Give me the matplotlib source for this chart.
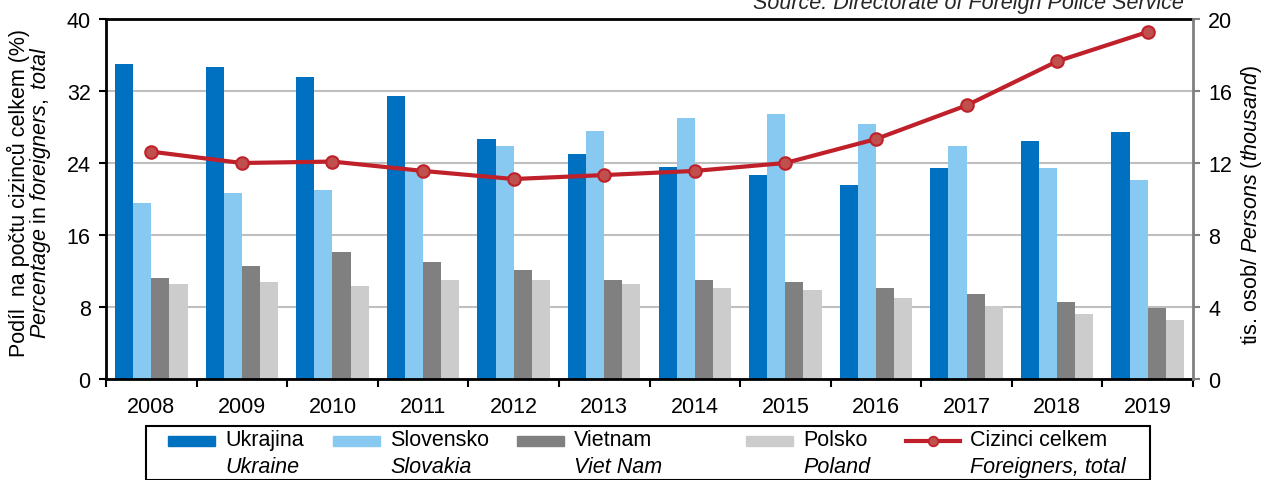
import numpy as np
import matplotlib.pyplot as plt
from matplotlib.patches import Rectangle
from matplotlib.lines import Line2D

plt.rcParams['font.family'] = ['Liberation Sans', 'DejaVu Sans']
plt.rcParams['mathtext.fontset'] = 'custom'
plt.rcParams['mathtext.rm'] = 'Liberation Sans'
plt.rcParams['mathtext.it'] = 'Liberation Sans:italic'

years = ['2008', '2009', '2010', '2011', '2012', '2013', '2014', '2015', '2016', '2017', '2018', '2019']
ukrajina = [35.0, 34.7, 33.6, 31.4, 26.7, 25.0, 23.6, 22.7, 21.6, 23.4, 26.5, 27.4]
slovensko = [19.6, 20.7, 21.0, 23.1, 25.9, 27.6, 29.0, 29.4, 28.3, 25.9, 23.4, 22.1]
vietnam = [11.2, 12.6, 14.1, 13.0, 12.1, 11.0, 11.0, 10.8, 10.1, 9.4, 8.6, 7.9]
polsko = [10.6, 10.8, 10.3, 11.0, 11.0, 10.6, 10.1, 9.9, 9.0, 8.1, 7.2, 6.6]
celkem = [12.63, 12.0, 12.08, 11.56, 11.11, 11.33, 11.56, 12.0, 13.33, 15.2, 17.65, 19.28]

series = [ukrajina, slovensko, vietnam, polsko]
colors = ['#0070C0', '#87C9F0', '#808080', '#CCCCCC']
names = [('Ukrajina', 'Ukraine'), ('Slovensko', 'Slovakia'), ('Vietnam', 'Viet Nam'),
         ('Polsko', 'Poland'), ('Cizinci celkem', 'Foreigners, total')]
line_col = '#C0202A'
marker_col = '#C0504D'
fs = 15.5

W, H = 1267, 481
fig = plt.figure(figsize=(W / 100, H / 100), dpi=100)
ax = fig.add_axes([106 / W, 1 - 380 / H, (1193 - 106) / W, 360 / H])

x = np.arange(len(years))
bw = 0.2
for i, (vals, c) in enumerate(zip(series, colors)):
    ax.bar(x + (i - 1.5) * bw, vals, bw, color=c, zorder=2)

ax.set_xlim(-0.5, len(years) - 0.5)
ax.set_ylim(0, 40)
ax.set_yticks(np.arange(0, 41, 8))
ax.yaxis.grid(True, color='#BFBFBF', lw=1.5, zorder=0)
ax.set_axisbelow(True)
ax.set_xticks(np.arange(-0.5, len(years), 1))
ax.set_xticklabels([])
ax.set_xticks(x, minor=True)
ax.set_xticklabels(years, minor=True)
ax.tick_params(axis='x', which='major', direction='out', length=6, width=1.5)
ax.tick_params(axis='x', which='minor', length=0, pad=12, labelsize=fs)
ax.tick_params(axis='y', direction='out', length=5, width=1.5, labelsize=fs, pad=6)
for s in ['left', 'bottom', 'top']:
    ax.spines[s].set_linewidth(2)
ax.spines['right'].set_visible(False)

ax2 = ax.twinx()
ax2.plot(x, celkem, color=line_col, lw=3, marker='o', ms=9,
         mfc=marker_col, mec=line_col, mew=1.5, zorder=3)
ax2.set_ylim(0, 20)
ax2.set_yticks(np.arange(0, 21, 4))
ax2.tick_params(axis='y', direction='out', length=5, width=1.5, color='#808080', labelsize=fs, pad=6)
ax2.spines['right'].set_color('#808080')
ax2.spines['right'].set_linewidth(2)
for s in ['left', 'bottom', 'top']:
    ax2.spines[s].set_visible(False)

fig.text(18 / W, 1 - 193 / H, 'Podíl  na počtu cizinců celkem (%)', rotation=90,
         ha='center', va='center', fontsize=fs)
fig.text(41 / W, 1 - 193 / H, r'$\it{Percentage}$ in $\it{foreigners,\ total}$', rotation=90,
         ha='center', va='center', fontsize=fs)
fig.text(1252 / W, 1 - 205 / H, r'tis. osob/ $\it{Persons\ (thousand)}$', rotation=90,
         ha='center', va='center', fontsize=fs)
fig.text(1184 / W, 1 - 8.5 / H, 'Source: Directorate of Foreign Police Service',
         ha='right', va='baseline', fontsize=fs, style='italic', color='#262626')

# legend drawn by hand: handle sits on the first line of each label
fig.add_artist(Rectangle((146 / W, 0), (1150 - 146) / W, 1 - 427 / H, transform=fig.transFigure,
                         fill=False, ec='black', lw=1.5))
text_x = [225, 390, 574, 803, 970]
for i, (cz, en) in enumerate(names):
    tx = text_x[i]
    if i < 4:
        fig.add_artist(Rectangle(((tx - 57) / W, 1 - 447 / H), 47 / W, 10 / H,
                                 transform=fig.transFigure, color=colors[i]))
    else:
        fig.add_artist(Line2D([(tx - 64) / W, (tx - 10) / W], [1 - 442 / H] * 2,
                              transform=fig.transFigure, color=line_col, lw=3))
        fig.add_artist(Line2D([(tx - 37) / W], [1 - 442 / H], transform=fig.transFigure,
                              marker='o', ms=7, mfc=marker_col, mec=line_col, mew=1.2))
    fig.text(tx / W, 1 - 441 / H, cz, ha='left', va='center', fontsize=fs)
    fig.text(tx / W, 1 - 468 / H, en, ha='left', va='center', fontsize=fs, style='italic')

fig.savefig('out.png', dpi=100)
